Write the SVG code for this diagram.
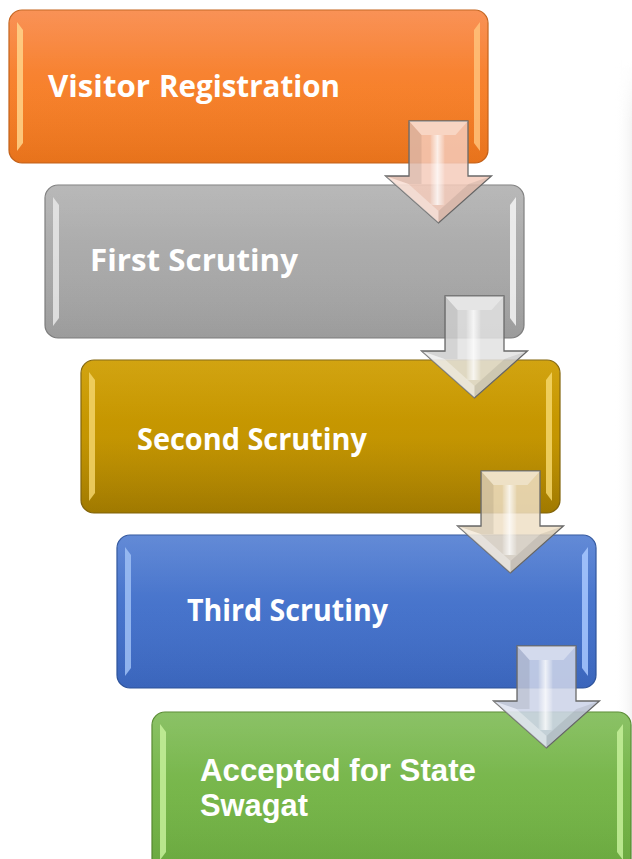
<svg xmlns="http://www.w3.org/2000/svg" width="632" height="859" viewBox="0 0 632 859">
<defs>
<linearGradient id="gOrange" x1="0" y1="0" x2="0" y2="1"><stop offset="0" stop-color="#f98b4c"/><stop offset="0.5" stop-color="#f7812c"/><stop offset="1" stop-color="#ee761c"/></linearGradient>
<linearGradient id="gGray" x1="0" y1="0" x2="0" y2="1"><stop offset="0" stop-color="#b4b4b4"/><stop offset="0.5" stop-color="#aaaaaa"/><stop offset="1" stop-color="#a0a0a0"/></linearGradient>
<linearGradient id="gGold" x1="0" y1="0" x2="0" y2="1"><stop offset="0" stop-color="#cf9e02"/><stop offset="0.5" stop-color="#c49500"/><stop offset="1" stop-color="#a57d00"/></linearGradient>
<linearGradient id="gBlue" x1="0" y1="0" x2="0" y2="1"><stop offset="0" stop-color="#5983d4"/><stop offset="0.5" stop-color="#4673cb"/><stop offset="1" stop-color="#3c68c1"/></linearGradient>
<linearGradient id="gGreen" x1="0" y1="0" x2="0" y2="1"><stop offset="0" stop-color="#84be5d"/><stop offset="0.5" stop-color="#77b64a"/><stop offset="1" stop-color="#6cac40"/></linearGradient>
<linearGradient id="gShine" x1="0" y1="0" x2="0" y2="1"><stop offset="0" stop-color="#ffffff" stop-opacity="0.06"/><stop offset="0.4" stop-color="#ffffff" stop-opacity="0"/><stop offset="1" stop-color="#000000" stop-opacity="0.03"/></linearGradient>
<linearGradient id="gEdge" x1="0" y1="0" x2="1" y2="0"><stop offset="0" stop-color="#ffffff" stop-opacity="0"/><stop offset="1" stop-color="#ebebeb" stop-opacity="0.6"/></linearGradient>
<linearGradient id="gEdgeV" x1="0" y1="0" x2="0" y2="1"><stop offset="0" stop-color="#ffffff" stop-opacity="0"/><stop offset="0.08" stop-color="#ffffff" stop-opacity="1"/><stop offset="1" stop-color="#ffffff" stop-opacity="1"/></linearGradient>
<mask id="mEdge"><rect x="614" y="60" width="18" height="799" fill="url(#gEdgeV)"/></mask>
<linearGradient id="gHi" x1="0" y1="0" x2="1" y2="0"><stop offset="0" stop-color="#ffffff" stop-opacity="0.1"/><stop offset="0.5" stop-color="#ffffff" stop-opacity="0.75"/><stop offset="1" stop-color="#ffffff" stop-opacity="0.1"/></linearGradient>
<path id="arrowOuter" d="M-29.5,0 H29.5 V55 H53 L0,102 L-53,55 H-29.5 Z"/>
</defs>
<style>
.txt{font-family:"Open Sans","Noto Sans","DejaVu Sans",sans-serif;font-weight:700;font-size:31px;fill:#ffffff}
.txt2{font-family:"Liberation Sans",Arial,sans-serif;font-weight:700;font-size:31px;fill:#ffffff}
.box{stroke-width:1.2}
.bev{opacity:0.85}
.arr{stroke:#6a6a6a;stroke-width:1.3}
.facetD{fill:#000000;opacity:0.08}
.facetL{fill:#ffffff;opacity:0.35}
</style>
<rect x="614" y="60" width="18" height="799" fill="url(#gEdge)" mask="url(#mEdge)"/>

<g id="node1">
<rect class="box" x="9" y="10" width="479" height="153" rx="13" fill="url(#gOrange)" stroke="#c4621a"/>
<rect x="9" y="10" width="479" height="153" rx="13" fill="url(#gShine)"/>
<polygon class="bev" points="17,22 23,30 23,143 17,151" fill="#ffd48a"/>
<polygon class="bev" points="480,22 474,30 474,143 480,151" fill="#ffc27a"/>
<text class="txt" x="48" y="97" textLength="102" lengthAdjust="spacingAndGlyphs">Visitor</text>
<text class="txt" x="159" y="97" textLength="181" lengthAdjust="spacingAndGlyphs">Registration</text>
</g>

<g id="node2">
<rect class="box" x="45" y="185" width="479" height="153" rx="13" fill="url(#gGray)" stroke="#7e7e7e"/>
<rect x="45" y="185" width="479" height="153" rx="13" fill="url(#gShine)"/>
<polygon class="bev" points="53,197 59,205 59,318 53,326" fill="#e8e8e8"/>
<polygon class="bev" points="516,197 510,205 510,318 516,326" fill="#f4f4f4"/>
<text class="txt" x="90" y="271" textLength="208" lengthAdjust="spacingAndGlyphs">First Scrutiny</text>
</g>

<g id="node3">
<rect class="box" x="81" y="360" width="479" height="153" rx="13" fill="url(#gGold)" stroke="#82640a"/>
<rect x="81" y="360" width="479" height="153" rx="13" fill="url(#gShine)"/>
<polygon class="bev" points="89,372 95,380 95,493 89,501" fill="#f3d36a"/>
<polygon class="bev" points="552,372 546,380 546,493 552,501" fill="#f5d66a"/>
<text class="txt" x="137" y="450" textLength="230" lengthAdjust="spacingAndGlyphs">Second Scrutiny</text>
</g>

<g id="node4">
<rect class="box" x="117" y="535" width="479" height="153" rx="13" fill="url(#gBlue)" stroke="#2e549c"/>
<rect x="117" y="535" width="479" height="153" rx="13" fill="url(#gShine)"/>
<polygon class="bev" points="125,547 131,555 131,668 125,676" fill="#9fc0f5"/>
<polygon class="bev" points="588,547 582,555 582,668 588,676" fill="#a8c8ff"/>
<text class="txt" x="187" y="621" textLength="201" lengthAdjust="spacingAndGlyphs">Third Scrutiny</text>
</g>

<g id="node5">
<rect class="box" x="152" y="712" width="479" height="160" rx="13" fill="url(#gGreen)" stroke="#56892f"/>
<rect x="152" y="712" width="479" height="160" rx="13" fill="url(#gShine)"/>
<polygon class="bev" points="160,724 166,732 166,852 160,860" fill="#c6f09a"/>
<polygon class="bev" points="623,724 617,732 617,852 623,860" fill="#c6f09a"/>
<text class="txt2" x="200" y="781" textLength="276" lengthAdjust="spacingAndGlyphs">Accepted for State</text>
<text class="txt2" x="200" y="816" textLength="108" lengthAdjust="spacingAndGlyphs">Swagat</text>
</g>

<g id="connectors">
<g id="arrow1" transform="translate(438.5,121)">
<use href="#arrowOuter" class="arr" fill="#f4cbbb" fill-opacity="0.85"/>
<polygon class="facetL" points="-29.5,0 29.5,0 17,14 -17,14"/>
<polygon class="facetD" points="-29.5,0 -17,14 -17,63 -30,63 -53,55 -29.5,55"/>
<polygon class="facetL" points="0,102 -53,55 -30,63 0,90"/>
<polygon class="facetD" points="0,102 53,55 30,63 0,90"/>
<rect x="-8" y="14" width="14" height="70" fill="url(#gHi)"/>
</g>
<g id="arrow2" transform="translate(474.5,296)">
<use href="#arrowOuter" class="arr" fill="#e2e2e2" fill-opacity="0.85"/>
<polygon class="facetL" points="-29.5,0 29.5,0 17,14 -17,14"/>
<polygon class="facetD" points="-29.5,0 -17,14 -17,63 -30,63 -53,55 -29.5,55"/>
<polygon class="facetL" points="0,102 -53,55 -30,63 0,90"/>
<polygon class="facetD" points="0,102 53,55 30,63 0,90"/>
<rect x="-8" y="14" width="14" height="70" fill="url(#gHi)"/>
</g>
<g id="arrow3" transform="translate(510.5,471)">
<use href="#arrowOuter" class="arr" fill="#eedfc6" fill-opacity="0.85"/>
<polygon class="facetL" points="-29.5,0 29.5,0 17,14 -17,14"/>
<polygon class="facetD" points="-29.5,0 -17,14 -17,63 -30,63 -53,55 -29.5,55"/>
<polygon class="facetL" points="0,102 -53,55 -30,63 0,90"/>
<polygon class="facetD" points="0,102 53,55 30,63 0,90"/>
<rect x="-8" y="14" width="14" height="70" fill="url(#gHi)"/>
</g>
<g id="arrow4" transform="translate(546.5,646)">
<use href="#arrowOuter" class="arr" fill="#cdd4e8" fill-opacity="0.88"/>
<polygon class="facetL" points="-29.5,0 29.5,0 17,14 -17,14"/>
<polygon class="facetD" points="-29.5,0 -17,14 -17,63 -30,63 -53,55 -29.5,55"/>
<polygon class="facetL" points="0,102 -53,55 -30,63 0,90"/>
<polygon class="facetD" points="0,102 53,55 30,63 0,90"/>
<rect x="-8" y="14" width="14" height="70" fill="url(#gHi)"/>
</g>
</g>
</svg>
